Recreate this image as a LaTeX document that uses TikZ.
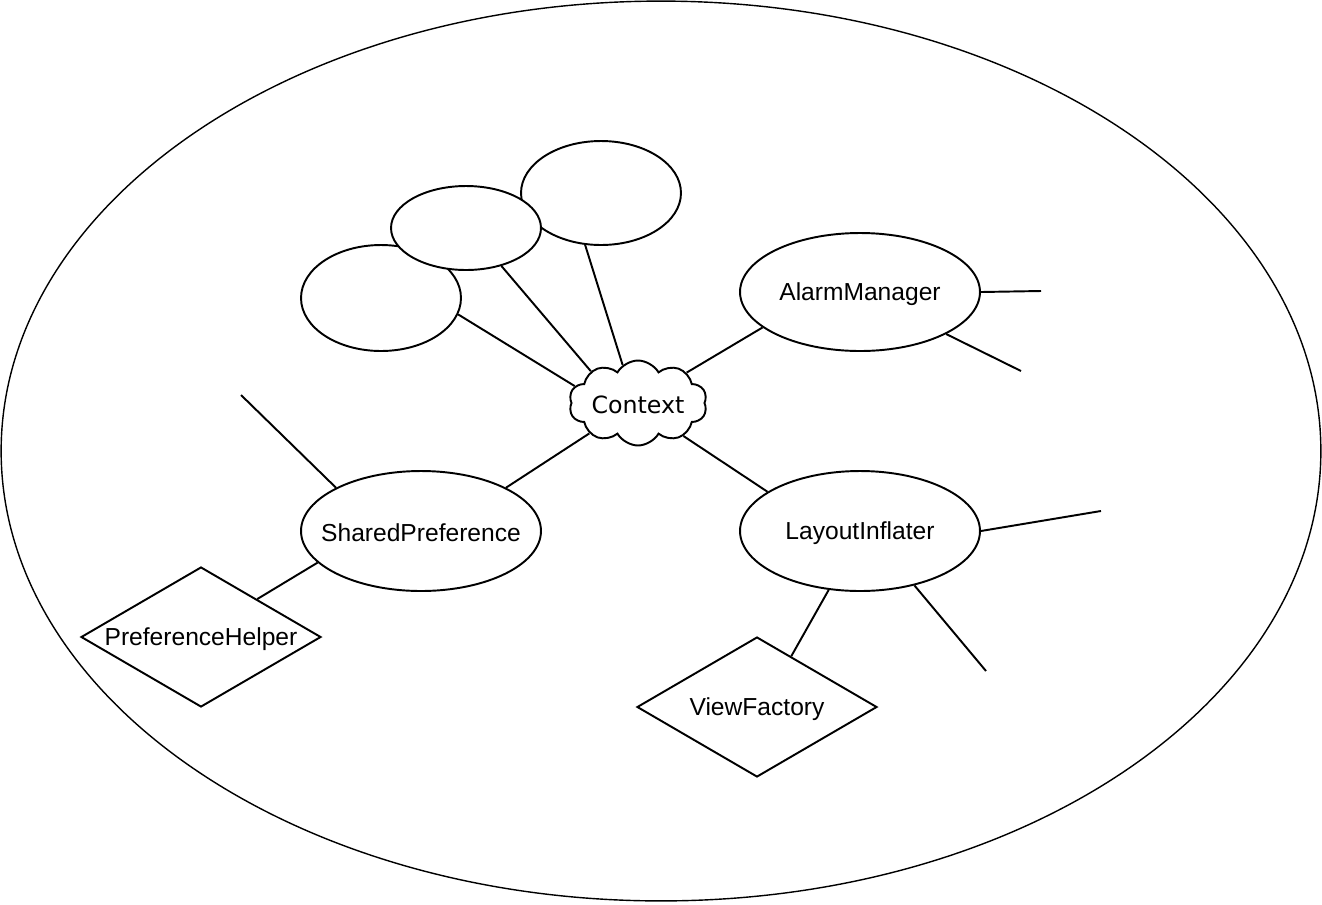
\documentclass[tikz,border=0pt]{standalone}
\usepackage{fontspec}
\setmainfont{Liberation Sans}
\newfontfamily\ctxfont{DejaVu Sans}
\usetikzlibrary{shapes.geometric,shapes.symbols}

\begin{document}
\begin{tikzpicture}[x=0.02cm,y=-0.02cm,line width=1.1pt,font=\fontsize{14}{17}\selectfont,every label/.style={yshift=-1.2pt},entity/.style={ellipse,draw,inner sep=0pt,minimum width=4.8cm,minimum height=2.4cm},blank/.style={ellipse,draw,fill=white,inner sep=0pt},helper/.style={diamond,draw,inner sep=0pt,minimum width=4.8cm,minimum height=2.8cm},link/.style={draw,line width=1.1pt}]
\useasboundingbox (0,0) rectangle (1322,904);
\node[ellipse,draw,line width=0.8pt,minimum width=26.4cm,minimum height=18cm] (world) at (661,451) {};
\node[cloud,draw,cloud puffs=10,cloud puff arc=120,cloud ignores aspect,inner sep=0pt,minimum width=2.76cm,minimum height=1.7cm,label={[font=\ctxfont\fontsize{13.5}{16}\selectfont]center:Context}] (ctx) at (638,403) {};
\node[blank,minimum width=3.2cm,minimum height=2.08cm] (oA) at (601,193) {};
\node[blank,minimum width=3.2cm,minimum height=2.12cm] (oC) at (381,298) {};
\node[blank,minimum width=3.0cm,minimum height=1.68cm] (oB) at (466,228) {};
\node[entity,minimum height=2.36cm,label=center:AlarmManager] (am) at (860,292) {};
\node[entity,label=center:SharedPreference] (sp) at (421,531) {};
\node[entity,label=center:LayoutInflater] (li) at (860,531) {};
\node[helper,label=center:PreferenceHelper] (ph) at (201,637) {};
\node[helper,label=center:ViewFactory] (vf) at (757,707) {};
\coordinate (amA) at (1041,291);
\coordinate (amB) at (1021,371);
\coordinate (spA) at (241,395);
\coordinate (liA) at (1101,511);
\coordinate (liB) at (986,671);
\draw[link] (oC.-12) -- (ctx.165);
\draw[link] (oB.-47) -- (ctx.146);
\draw[link] (oA.253) -- (ctx.112);
\draw[link] (am.200) -- (ctx.32);
\draw[link] (sp.27) -- (ctx.212);
\draw[link] (li.157) -- (ctx.-36);
\draw[link] (am.0) -- (amA);
\draw[link] (am.-26) -- (amB);
\draw[link] (sp.153) -- (spA);
\draw[link] (sp.197) -- (ph.34);
\draw[link] (li.0) -- (liA);
\draw[link] (li.-45) -- (liB);
\draw[link] (li.242) -- (vf.56);
\end{tikzpicture}
\end{document}
